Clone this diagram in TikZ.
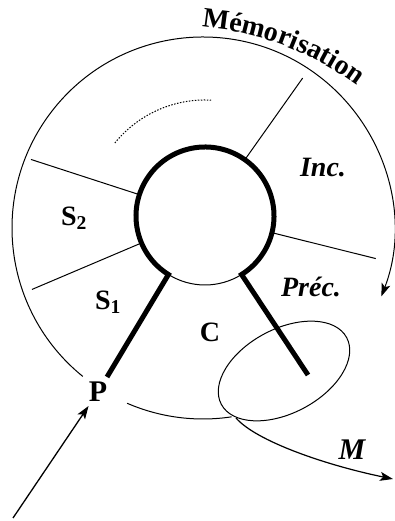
\documentclass[tikz,border=0pt]{standalone}
\usepackage{fontspec}
\setmainfont{Liberation Serif}
\usepackage{tikz}
\usetikzlibrary{arrows.meta, calc, decorations.text}

\begin{document}
\begin{tikzpicture}[x=1pt, y=1pt,
    label text/.style={font=\fontsize{28}{28}\selectfont\bfseries},
    ital text/.style={font=\fontsize{28}{28}\selectfont\bfseries\itshape},
    thin line/.style={line width=1pt},
    thick line/.style={line width=5pt},
    arrow tip/.style={-{Stealth[length=13pt, width=9pt, inset=3pt]}}]
        \useasboundingbox (0,0) rectangle (395,521);

        % Centres
        \coordinate (O) at (203,293);
        \coordinate (I) at (205,305);
        \coordinate (T) at (175,186);

        % Outer circle with memorisation arrow
        \draw[thin line, arrow tip] ($(O)+(231:191)$) arc[start angle=231, end angle=-21, radius=191];
        \draw[thin line] ($(O)+(246.6:191)$) arc[start angle=246.6, end angle=278.6, radius=191];

        % Inner ring and its two legs
        \draw[thick line] (107,144) -- ($(I)+(238:69)$) arc[start angle=238, end angle=-58, radius=69] -- (308,146);
        \draw[thin line] ($(I)+(238:69)$) arc[start angle=238, end angle=302, radius=69];

        % Sector boundaries
        \foreach \a/\r in {54.7/169, 162/183, 203/188, -14/176}
            \draw[thin line] ($(I)+(\a:69)$) -- ($(I)+(\a:\r)$);

        % Dotted trace
        \draw[thin line, dash pattern=on 1.5pt off 1.5pt] ($(I)+(141:116)$) arc[start angle=141, end angle=87, radius=116];

        % Loop and outgoing curve
        \draw[thin line, rotate around={28:(284,150)}] (284,150) ellipse[x radius=71, y radius=42];
        \coordinate (loop) at (236,103);
        \draw[line width=1.2pt, arrow tip] (loop) .. controls (256,80) and (325,56) .. (393,42);

        % Curved title
        \path[decorate, decoration={text along path, text align=left,
            text={|\fontsize{28}{28}\selectfont\bfseries|Mémorisation}}]
            ($(T)+(85:309)$) arc[start angle=85, end angle=45, radius=309];

        % Labels
        \node[label text, font=\fontsize{30}{30}\selectfont\bfseries, inner sep=4pt] (P) at (98,129) {P};
        \coordinate (src) at (13,3);
        \draw[line width=1.3pt, arrow tip] (src) -- (P);
        \node[label text] (S2) at (74,303) {S\textsubscript{2}};
        \node[label text] (S1) at (108,219) {S\textsubscript{1}};
        \node[label text] (C) at (210,189) {C};
        \node[ital text] (inc) at (323,353) {Inc.};
        \node[ital text] (prec) at (311,234) {Préc.};
        \node[ital text, font=\fontsize{30}{30}\selectfont\bfseries\itshape] (M) at (352,71) {M};
    \end{tikzpicture}
\end{document}
